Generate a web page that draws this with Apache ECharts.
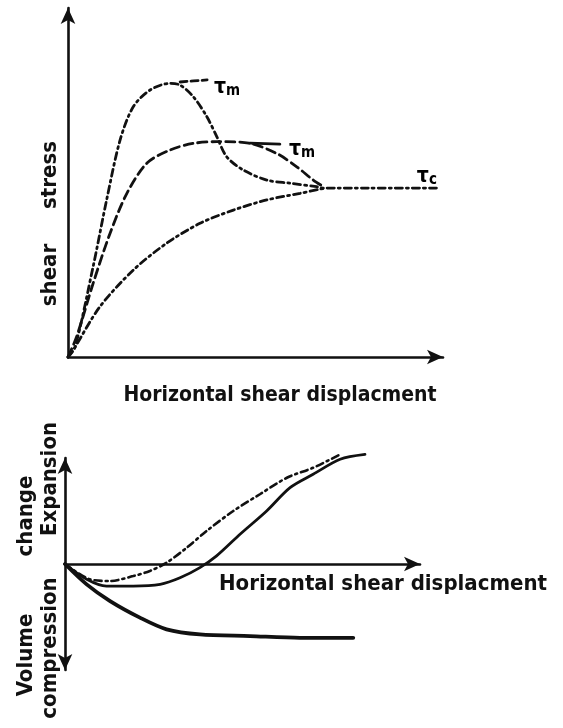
<!DOCTYPE html>
<html>
<head>
<meta charset="UTF-8">
<script src="https://cdn.jsdelivr.net/npm/echarts@6/dist/echarts.min.js"></script>
<style>
  html, body { margin: 0; padding: 0; background: #ffffff; }
</style>
</head>
<body>
<div id="main" style="width:563px;height:728px;"></div>
<script>
// top chart: shear stress vs horizontal displacement (arbitrary units 0-100)
var peakCurve = [[0,0],[1.9,2.9],[6.7,25.9],[10.3,45],[13.9,62.2],[17.4,71.7],[21.9,76.5],[27.2,78.4],
  [29.9,77.9],[33.4,74.6],[37,68.9],[39.7,63.1],[42.3,57.4],[46.7,53.6],[53,50.7],[59.2,49.8],
  [66.3,48.8],[68,48.4],[80,48.4],[99.2,48.4]];
var midCurve = [[0,0],[2.3,5.8],[6.7,21.1],[11.2,35.4],[15.7,46.9],[21,55.5],[27.2,59.3],[33.4,61.2],
  [39.7,61.7],[48.5,61.2],[55.7,58.3],[61,54.5],[65.4,50.7],[68.1,48.8]];
var lowCurve = [[0,0],[1.4,2],[8.5,14.4],[17.4,24.9],[26.3,32.6],[35.2,38.3],[44.1,42.1],[53,45],
  [61.9,46.9],[68.1,48.3]];
var peakLeader = [[29.9,78.8],[37.1,79.4]];
var midLeader = [[48.5,61.3],[56.5,61]];
var stressLabels = [
  { name: 'τm', value: [42.4, 77.1] },
  { name: 'τm', value: [62.4, 59.3] },
  { name: 'τc', value: [95.7, 51.6] }
];

// bottom chart: volume change vs horizontal displacement
var dashedVol = [[0,0],[7,-7.2],[12.7,-8],[19.2,-5.7],[23.9,-3.3],[28.6,0.6],[34.3,7.7],[39.9,15.6],
  [47.4,25],[54.9,32.9],[62.5,40.7],[69.9,45.4],[77.5,51.7]];
var denseVol = [[0,0],[6.1,-7.2],[11.7,-10.4],[19.2,-10.4],[26.8,-9.6],[32.4,-6.5],[38,-1.7],[42.7,3.8],
  [49.3,14],[56.8,25],[63.4,36],[69.9,42.3],[77.5,49.4],[84.5,51.7]];
var looseVol = [[0,0],[6.1,-9.6],[12.7,-17.5],[21.1,-25.3],[28.6,-30.8],[38,-33.2],[52.1,-34],
  [66.2,-34.8],[81.2,-34.8]];

var ink = '#111111';
var font = '"DejaVu Sans Condensed", "DejaVu Sans", sans-serif';

function axisStyle(symbols) {
  return {
    show: true,
    onZero: true,
    symbol: symbols,
    symbolSize: [11, 16],
    lineStyle: { color: ink, width: 2.6 }
  };
}
function plainAxis(idx, min, max, symbols) {
  return {
    type: 'value', gridIndex: idx, min: min, max: max,
    axisLine: axisStyle(symbols),
    axisTick: { show: false }, axisLabel: { show: false }, splitLine: { show: false }
  };
}
function curve(name, data, idx, width, dash) {
  return {
    name: name, type: 'line', xAxisIndex: idx, yAxisIndex: idx, data: data,
    smooth: 0.3, symbol: 'none', clip: false, silent: true,
    lineStyle: { color: ink, width: width, type: dash || 'solid', cap: 'round' }
  };
}
function word(text, x, y, size, rot) {
  return {
    type: 'text', x: x, y: y, rotation: rot || 0,
    style: {
      text: text, fill: ink, font: 'bold ' + size + 'px ' + font,
      textAlign: 'center', textVerticalAlign: 'middle'
    }
  };
}

var myChart = echarts.init(document.getElementById('main'));
myChart.setOption({
  backgroundColor: '#ffffff',
  animation: false,
  grid: [
    { left: 68, right: 120, top: 8, bottom: 371 },
    { left: 65, right: 143, top: 458, bottom: 58 }
  ],
  xAxis: [plainAxis(0, 0, 100, ['none', 'arrow']), plainAxis(1, 0, 100, ['none', 'arrow'])],
  yAxis: [plainAxis(0, 0, 100, ['none', 'arrow']), plainAxis(1, -50, 50, ['arrow', 'arrow'])],
  series: [
    curve('peak', peakCurve, 0, 2.8, [7, 4, 2, 4]),
    curve('mid', midCurve, 0, 2.8, [9, 5]),
    curve('low', lowCurve, 0, 2.8, [7, 4, 2, 4]),
    curve('peakLeader', peakLeader, 0, 2.8, [7, 4]),
    curve('midLeader', midLeader, 0, 2.8),
    {
      type: 'scatter', xAxisIndex: 0, yAxisIndex: 0, symbol: 'circle', symbolSize: 1,
      itemStyle: { color: 'rgba(0,0,0,0)' }, silent: true,
      data: stressLabels,
      label: {
        show: true, position: 'inside', opacity: 1,
        formatter: function (p) { return '{t|' + p.name.charAt(0) + '}{s|' + p.name.slice(1) + '}'; },
        rich: {
          t: { color: '#000', fontFamily: font, fontWeight: 'bold', fontSize: 21 },
          s: { color: '#000', fontFamily: font, fontWeight: 'bold', fontSize: 15, padding: [7, 0, 0, 0] }
        }
      }
    },
    curve('dashedVol', dashedVol, 1, 2.6, [7, 4, 2, 4]),
    curve('denseVol', denseVol, 1, 2.8),
    curve('looseVol', looseVol, 1, 3.8)
  ],
  graphic: [
    word('Horizontal shear displacment', 280, 396, 21),
    word('Horizontal shear displacment', 383, 584, 22),
    word('shear', 50, 275, 22, Math.PI / 2),
    word('stress', 50, 175, 22, Math.PI / 2),
    word('Volume', 26, 655, 22, Math.PI / 2),
    word('change', 26, 516, 22, Math.PI / 2),
    word('compression', 50, 648, 22, Math.PI / 2),
    word('Expansion', 50, 479, 22, Math.PI / 2)
  ]
});
</script>
</body>
</html>
